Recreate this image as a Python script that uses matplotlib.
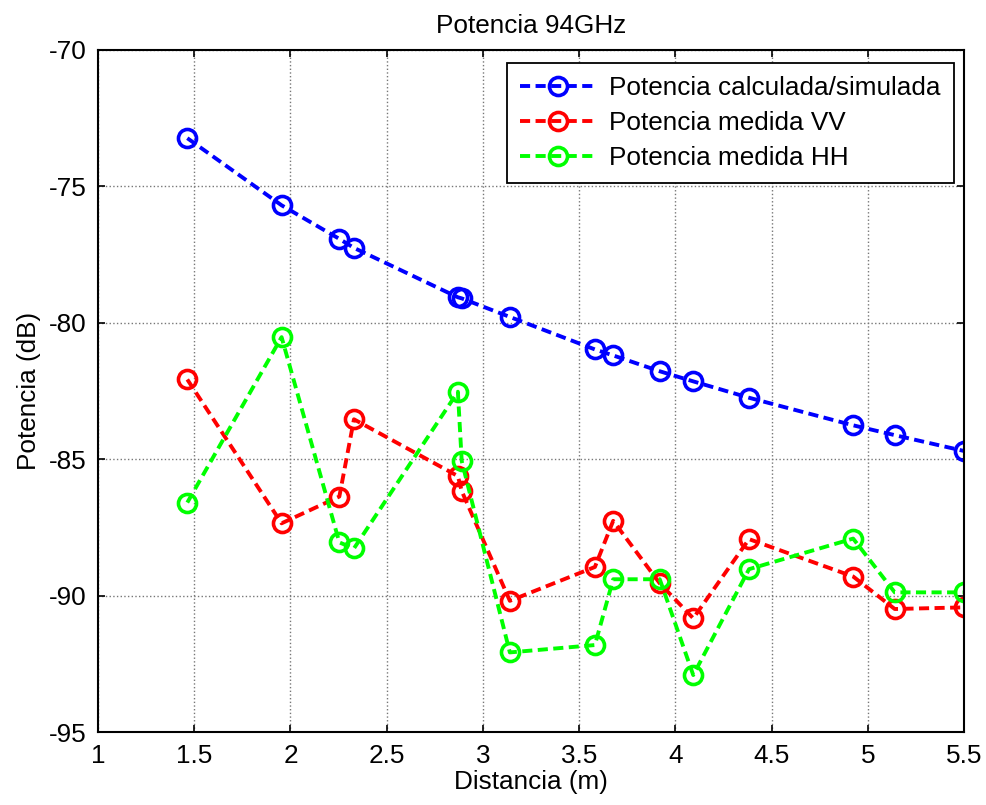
import matplotlib
matplotlib.use("Agg")
import matplotlib.pyplot as plt

plt.rcParams['font.family'] = ['Liberation Sans', 'DejaVu Sans']
plt.rcParams['axes.unicode_minus'] = False

distancia = [1.464, 1.954, 2.254, 2.330, 2.870, 2.890, 3.140, 3.582,
             3.677, 3.919, 4.093, 4.383, 4.924, 5.140, 5.500]
pot_sim = [-73.23, -75.69, -76.92, -77.25, -79.06, -79.10, -79.78, -80.97,
           -81.19, -81.77, -82.14, -82.74, -83.75, -84.11, -84.69]
pot_vv = [-82.07, -87.34, -86.36, -83.53, -85.61, -86.16, -90.18, -88.94,
          -87.25, -89.54, -90.82, -87.92, -89.29, -90.48, -90.42]
pot_hh = [-86.58, -80.52, -88.04, -88.26, -82.52, -85.06, -92.07, -91.80,
          -89.39, -89.39, -92.90, -89.02, -87.90, -89.87, -89.87]

labels = ["Potencia calculada/simulada", "Potencia medida VV", "Potencia medida HH"]
colors = ["#0000ff", "#ff0000", "#00ff00"]

fig = plt.figure(figsize=(9.86, 8.05), dpi=100)
ax = fig.add_axes([0.0994, 0.0902, 0.8783, 0.8477])

for serie, lab, col in zip([pot_sim, pot_vv, pot_hh], labels, colors):
    ax.plot(distancia, serie, linestyle='--', dashes=(2.6, 1.4), color=col,
            linewidth=2.8, marker='o', markersize=13, markerfacecolor='none',
            markeredgewidth=2.6, markeredgecolor=col, label=lab)

ax.set_xlim(1, 5.5)
ax.set_ylim(-95, -70)
ax.set_xticks([1, 1.5, 2, 2.5, 3, 3.5, 4, 4.5, 5, 5.5])
ax.set_xticklabels(["1", "1.5", "2", "2.5", "3", "3.5", "4", "4.5", "5", "5.5"])
ax.set_yticks([-95, -90, -85, -80, -75, -70])
ax.tick_params(direction='in', top=True, right=True, length=5, width=1.2,
               labelsize=18.8, pad=8)
ax.grid(True, linestyle=':', color='#777777', linewidth=1.0)
for s in ax.spines.values():
    s.set_linewidth(1.5)

ax.set_title("Potencia 94GHz", fontsize=18.8, pad=12)
ax.set_xlabel("Distancia (m)", fontsize=18.8, labelpad=2)
ax.set_ylabel("Potencia (dB)", fontsize=18.8, labelpad=6)

leg = ax.legend(loc='upper right', bbox_to_anchor=(0.9885, 0.981),
                borderaxespad=0, fontsize=18.8, fancybox=False, framealpha=1,
                edgecolor='black', handlelength=2.87, handletextpad=0.54,
                labelspacing=0.42, borderpad=0.5)
leg.get_frame().set_linewidth(1.3)

fig.savefig("out.png", dpi=100)
